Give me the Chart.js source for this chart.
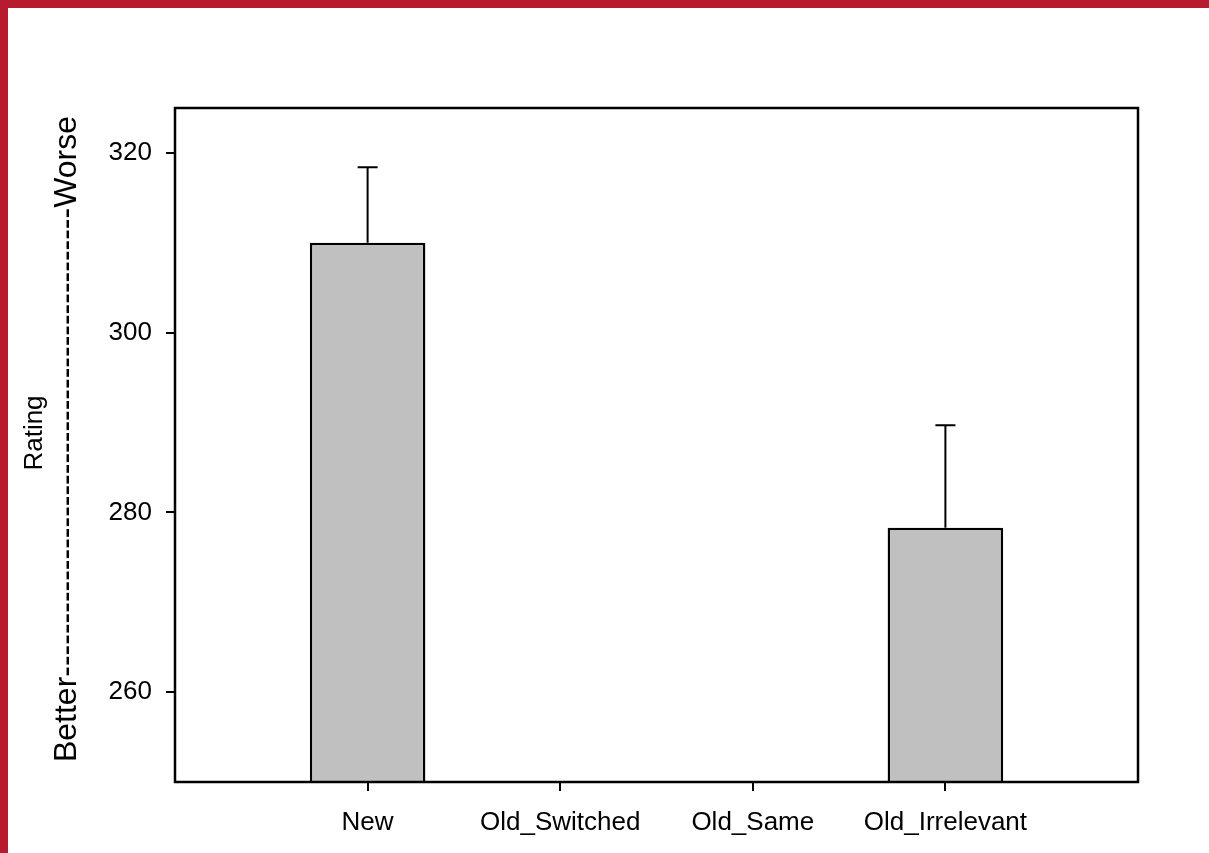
<!DOCTYPE html>
<html>
<head>
<meta charset="utf-8">
<script src="https://cdn.jsdelivr.net/npm/chart.js@4"></script>
<style>
  html, body { margin: 0; padding: 0; background: #fff; }
  #frame {
    position: absolute; left: 0; top: 0;
    width: 1201px; height: 845px;
    border-top: 8px solid #b71c2e;
    border-left: 8px solid #b71c2e;
  }
  canvas { display: block; }
</style>
</head>
<body>
<div id="frame"><canvas id="chart" width="1201" height="845"></canvas></div>
<script>
// values
const categories = ['New', 'Old_Switched', 'Old_Same', 'Old_Irrelevant'];
const means = [310.0, null, null, 278.3];
const errors = [8.4, null, null, 11.4];
const yTicks = [260, 280, 300, 320];
const yMin = 250;
const yMax = 325;
const yTitle = 'Rating';
const yNote = 'Better' + '-'.repeat(44) + 'Worse';

// empty slots at both ends so the four groups sit at 1/5 .. 4/5
const labels = ['', ...categories, ''];
const barData = [null, ...means, null];
const errData = [null, ...errors, null];

const family = "'Liberation Sans', Arial, sans-serif";

const frame = {
  id: 'frame',
  afterDatasetsDraw(chart) {
    const { ctx, chartArea: a } = chart;
    ctx.save();
    ctx.strokeStyle = '#000';
    ctx.lineWidth = 2.5;
    ctx.strokeRect(a.left, a.top, a.right - a.left, a.bottom - a.top);
    ctx.restore();
  }
};

const errorBars = {
  id: 'errorBars',
  afterDatasetsDraw(chart) {
    const { ctx, scales: { y } } = chart;
    const meta = chart.getDatasetMeta(0);
    ctx.save();
    ctx.strokeStyle = '#000';
    ctx.lineWidth = 2;
    meta.data.forEach((bar, i) => {
      if (barData[i] == null || errData[i] == null) return;
      const base = y.getPixelForValue(barData[i]);
      const top = y.getPixelForValue(barData[i] + errData[i]);
      ctx.beginPath();
      ctx.moveTo(bar.x, base);
      ctx.lineTo(bar.x, top);
      ctx.moveTo(bar.x - 10, top);
      ctx.lineTo(bar.x + 10, top);
      ctx.stroke();
    });
    ctx.restore();
  }
};

const yTitles = {
  id: 'yTitles',
  afterDraw(chart) {
    const { ctx, chartArea: a } = chart;
    const mid = (a.top + a.bottom) / 2;
    ctx.save();
    ctx.fillStyle = '#000';
    ctx.textAlign = 'center';
    ctx.textBaseline = 'middle';

    ctx.save();
    ctx.translate(27, mid - 12);
    ctx.rotate(-Math.PI / 2);
    ctx.font = '26px ' + family;
    ctx.fillText(yTitle, 0, 0);
    ctx.restore();

    ctx.save();
    ctx.translate(59, mid - 6);
    ctx.rotate(-Math.PI / 2);
    ctx.font = '32px ' + family;
    ctx.fillText(yNote, 0, 0);
    ctx.restore();

    ctx.restore();
  }
};

new Chart(document.getElementById('chart'), {
  type: 'bar',
  data: {
    labels: labels,
    datasets: [{
      data: barData,
      backgroundColor: '#c0c0c0',
      borderColor: '#000',
      borderWidth: 2.5,
      categoryPercentage: 1,
      barPercentage: 0.6
    }]
  },
  options: {
    responsive: false,
    animation: false,
    layout: { padding: { top: 100, right: 71, bottom: 0, left: 0 } },
    plugins: {
      legend: { display: false },
      tooltip: { enabled: false }
    },
    scales: {
      x: {
        offset: false,
        afterFit: s => { s.height = 71; },
        border: { display: false },
        grid: {
          offset: false,
          drawOnChartArea: false,
          tickLength: 9,
          lineWidth: 2,
          color: c => (c.tick && c.tick.label) ? '#000' : 'rgba(0,0,0,0)'
        },
        ticks: {
          color: '#000',
          font: { family: family, size: 26 },
          padding: 16,
          autoSkip: false,
          maxRotation: 0
        }
      },
      y: {
        min: yMin,
        max: yMax,
        afterBuildTicks: s => { s.ticks = yTicks.map(v => ({ value: v })); },
        afterFit: s => { s.width = 167; },
        border: { display: false },
        grid: {
          drawOnChartArea: false,
          tickLength: 9,
          lineWidth: 2,
          color: '#000'
        },
        ticks: {
          color: '#000',
          font: { family: family, size: 26 },
          padding: 14
        }
      }
    }
  },
  plugins: [frame, errorBars, yTitles]
});
</script>
</body>
</html>
